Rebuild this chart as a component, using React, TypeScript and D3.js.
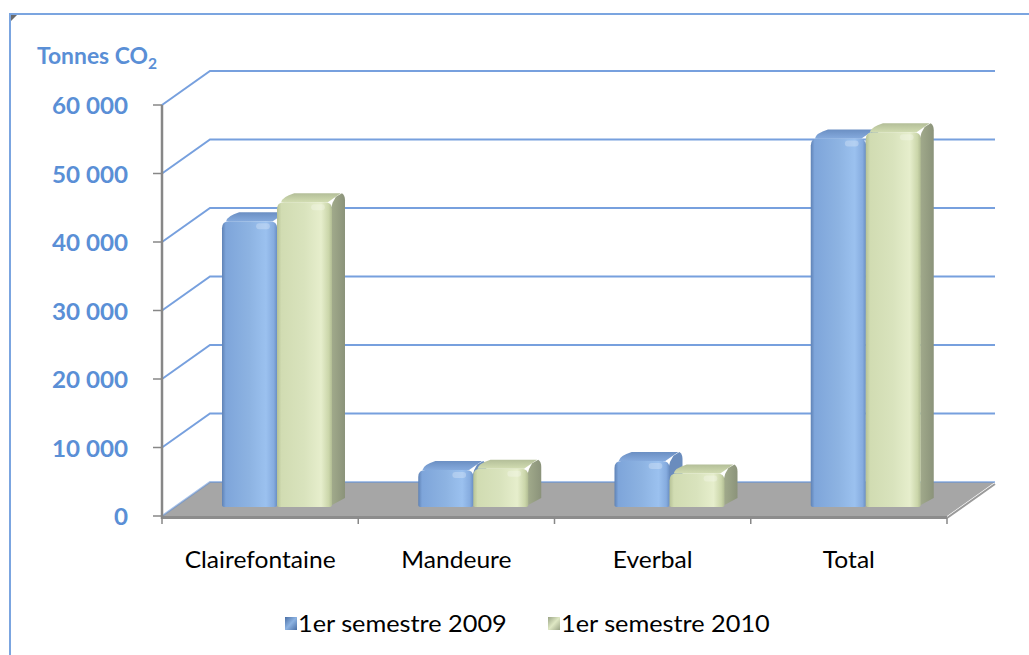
import * as d3 from 'd3';

// values (tonnes CO2)
const categories = ['Clairefontaine', 'Mandeure', 'Everbal', 'Total'];
const series = ['1er semestre 2009', '1er semestre 2010'];
const values2009 = [41700, 5400, 6700, 53800];
const values2010 = [44500, 5600, 4900, 54700];
const yTicks = [0, 10000, 20000, 30000, 40000, 50000, 60000];

const W = 1029;
const H = 655;
const left = 162;
const right = 947;
const top = 105;
const base = 516;
const DX = 48; // floor depth
const DY = -34;
const BX = 13; // bar depth
const BY = -9;

const styles = {
  blue: { front: 'url(#gBlue)', top: 'url(#gBlueTop)', side: '#6a8cbd' },
  green: { front: 'url(#gGreen)', top: 'url(#gGreenTop)', side: 'url(#gGreenSide)' },
};

function Bar({ xl, w, v, y, st }) {
  const t = y(v) + BY;
  const b = base + BY;
  const r = Math.min(7, (b - t) / 2);
  const front = `M${xl},${b - 2} L${xl},${t + r} Q${xl},${t} ${xl + r},${t} L${xl + w - r},${t} Q${xl + w},${t} ${xl + w},${t + r} L${xl + w},${b - 2} Q${xl + w},${b} ${xl + w - 3},${b} L${xl + 3},${b} Q${xl},${b} ${xl},${b - 2} Z`;
  const topFace = `M${xl + r * 0.6},${t} L${xl + w - r * 0.6},${t} L${xl + w + BX - r * 0.6},${t + BY} L${xl + BX + r * 0.6},${t + BY} Q${xl + BX * 0.4},${t + BY * 0.6} ${xl + r * 0.6},${t} Z`;
  const side = `M${xl + w - 1},${t + r} Q${xl + w},${t} ${xl + w + BX * 0.3},${t + BY * 0.6} L${xl + w + BX - 3},${t + BY} Q${xl + w + BX},${t + BY + 2} ${xl + w + BX},${t + BY + r} L${xl + w + BX},${b + BY} L${xl + w},${b - 2} Z`;
  return (
    <g>
      <path d={side} fill={st.side} />
      <path d={topFace} fill={st.top} />
      <path d={front} fill={st.front} />
      <rect x={xl + w * 0.62} y={t + 2} width={w * 0.25} height={Math.min(6, b - t - 4)} fill="#ffffff" opacity={0.25} rx={3} />
    </g>
  );
}

// text stretched a little sideways, like the wide Calibri of the original
function Label({ x, y, sx = 1, anchor = 'start', size, bold = false, fill = '#000', children }) {
  return (
    <g transform={`translate(${x},${y}) scale(${sx},1)`}>
      <text
        textAnchor={anchor}
        fontFamily='Lato, "Open Sans", sans-serif'
        fontWeight={bold ? 'bold' : 'normal'}
        fontSize={size}
        fill={fill}
      >
        {children}
      </text>
    </g>
  );
}

export default function App() {
  const x = d3.scaleBand().domain(categories).range([left, right]);
  const xs = d3.scaleBand().domain(series).range([47, 157]);
  const y = d3.scaleLinear().domain([0, 60000]).range([base, top]);
  const fmt = (v: number) => d3.format(',')(v).replace(/,/g, ' ');
  const gridColor = '#5f8fd8';
  const labelBlue = '#5a8fd6';
  const backRight = 995;

  return (
    <svg width={W} height={H} style={{ position: 'absolute', left: 0, top: 0, background: '#fff' }}>
      <defs>
        <linearGradient id="gBlue" x1="0" x2="1" y1="0" y2="0">
          <stop offset="0" stopColor="#5f82b5" />
          <stop offset="0.07" stopColor="#7ea5da" />
          <stop offset="0.5" stopColor="#8db3e2" />
          <stop offset="0.8" stopColor="#9bc1ef" />
          <stop offset="0.94" stopColor="#86acdf" />
          <stop offset="1" stopColor="#6a8fc4" />
        </linearGradient>
        <linearGradient id="gBlueTop" x1="0" x2="0" y1="1" y2="0">
          <stop offset="0" stopColor="#85aadd" />
          <stop offset="1" stopColor="#6b8fc3" />
        </linearGradient>
        <linearGradient id="gGreen" x1="0" x2="1" y1="0" y2="0">
          <stop offset="0" stopColor="#b6c296" />
          <stop offset="0.08" stopColor="#d1dcb2" />
          <stop offset="0.5" stopColor="#d9e3bd" />
          <stop offset="0.8" stopColor="#e6eecc" />
          <stop offset="0.94" stopColor="#cbd6aa" />
          <stop offset="1" stopColor="#b1bc93" />
        </linearGradient>
        <linearGradient id="gGreenTop" x1="0" x2="0" y1="1" y2="0">
          <stop offset="0" stopColor="#d2ddb2" />
          <stop offset="1" stopColor="#b3be98" />
        </linearGradient>
        <linearGradient id="gGreenSide" x1="0" x2="1" y1="0" y2="0">
          <stop offset="0" stopColor="#a2ab8c" />
          <stop offset="1" stopColor="#8b937a" />
        </linearGradient>
        <linearGradient id="gLegBlue" x1="0" x2="1" y1="0" y2="1">
          <stop offset="0" stopColor="#4a6fa5" />
          <stop offset="0.5" stopColor="#8db3e2" />
          <stop offset="1" stopColor="#4a6fa5" />
        </linearGradient>
        <linearGradient id="gLegGreen" x1="0" x2="1" y1="0" y2="1">
          <stop offset="0" stopColor="#9aa486" />
          <stop offset="0.5" stopColor="#dfe8c4" />
          <stop offset="1" stopColor="#9aa486" />
        </linearGradient>
      </defs>

      {/* outer frame */}
      <rect x={10} y={14} width={1040} height={700} fill="none" stroke="#7ba5e0" strokeWidth={2} />
      <path d="M11,15 h6 l-6,6 Z" fill="#6b6b6b" />

      {/* floor */}
      <polygon
        points={`${left},${base} ${left + DX},${base + DY} ${backRight},${base + DY} ${right},${base}`}
        fill="#a6a6a6"
      />
      <rect x={left} y={base} width={right - left} height={3} fill="#8c8c8c" />
      <line x1={right} y1={base + 2} x2={backRight} y2={base + DY + 2} stroke="#9a9a9a" strokeWidth={2} />

      {/* gridlines: side wall + back wall */}
      {yTicks.map((t) => (
        <path
          key={t}
          d={`M${left},${y(t)} L${left + DX},${y(t) + DY} L${backRight},${y(t) + DY}`}
          fill="none"
          stroke={gridColor}
          strokeWidth={2}
          opacity={t === 0 ? 0.55 : 0.85}
        />
      ))}

      {/* axes */}
      <line x1={left} y1={top} x2={left} y2={base + 3} stroke="#878787" strokeWidth={2.5} />
      {yTicks.map((t) => (
        <line key={t} x1={left - 9} y1={y(t)} x2={left} y2={y(t)} stroke="#878787" strokeWidth={1.5} />
      ))}
      {[...categories.map((c) => x(c)), right].map((v, i) => (
        <line key={i} x1={v} y1={base + 2} x2={v} y2={base + 8} stroke="#878787" strokeWidth={1.5} />
      ))}

      {/* bars */}
      {categories.map((c, i) => (
        <g key={c}>
          <Bar xl={x(c) + xs(series[0]) + BX} w={xs.bandwidth()} v={values2009[i]} y={y} st={styles.blue} />
          <Bar xl={x(c) + xs(series[1]) + BX} w={xs.bandwidth()} v={values2010[i]} y={y} st={styles.green} />
        </g>
      ))}

      {/* y labels */}
      {yTicks.map((t) => (
        <Label key={t} x={128} y={y(t) + 9} sx={1.1} anchor="end" size={22} bold fill={labelBlue}>
          {fmt(t)}
        </Label>
      ))}
      <Label x={37} y={64} sx={1.04} size={22} bold fill={labelBlue}>
        Tonnes CO<tspan fontSize={15} dy={5}>2</tspan>
      </Label>

      {/* category labels */}
      {categories.map((c) => (
        <Label key={c} x={x(c) + x.bandwidth() / 2} y={568} sx={1.07} anchor="middle" size={23}>
          {c}
        </Label>
      ))}

      {/* legend */}
      {series.map((s, i) => {
        const lx = i === 0 ? 285 : 548;
        return (
          <g key={s}>
            <rect x={lx} y={617} width={12} height={13} fill={i === 0 ? 'url(#gLegBlue)' : 'url(#gLegGreen)'} />
            <Label x={lx + 13} y={632} sx={1.1} size={23}>
              {s}
            </Label>
          </g>
        );
      })}
    </svg>
  );
}
